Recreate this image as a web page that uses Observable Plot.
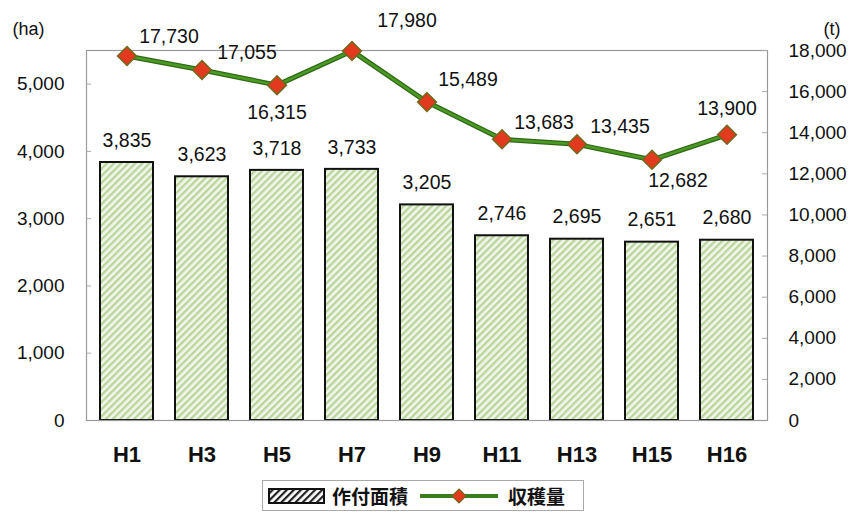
<!DOCTYPE html>
<html><head><meta charset="utf-8">
<script src="https://cdn.jsdelivr.net/npm/d3@7"></script>
<script src="https://cdn.jsdelivr.net/npm/@observablehq/plot@0.6"></script>
<style>
body{margin:0;background:#fff;font-family:"Liberation Sans",Arial,sans-serif;}
#wrap{position:relative;width:853px;height:515px;}
#legend{position:absolute;left:262px;top:480px;width:322px;height:31px;border:1px solid #aaa;box-sizing:border-box;display:flex;align-items:center;font-family:"Noto Sans CJK JP",sans-serif;font-weight:bold;font-size:19px;color:#111;}
#legend span{line-height:1;}
</style></head>
<body><div id="wrap"><div id="chart"></div>
<div id="legend">
<svg width="60" height="20" style="margin-left:5px"><defs><pattern id="lh" width="5" height="5" patternUnits="userSpaceOnUse" patternTransform="rotate(45)"><rect width="5" height="5" fill="#fff"/><rect width="2.2" height="5" fill="#222"/></pattern></defs><rect x="1" y="3" width="55" height="14" fill="url(#lh)" stroke="#111" stroke-width="2"/></svg>
<span style="margin-left:4px">作付面積</span>
<svg width="82" height="20" style="margin-left:10px"><line x1="2" y1="10" x2="80" y2="10" stroke="#3a7d1c" stroke-width="4"/><path d="M41,3 L48,10 L41,17 L34,10 Z" fill="#e23a1e" stroke="#6f6a1c" stroke-width="1.2"/></svg>
<span style="margin-left:8px">収穫量</span>
</div></div>
<script>
const years = ["H1","H3","H5","H7","H9","H11","H13","H15","H16"];
const area = [3835,3623,3718,3733,3205,2746,2695,2651,2680];
const harvest = [17730,17055,16315,17980,15489,13683,13435,12682,13900];
const leftTicks = [0,1000,2000,3000,4000,5000];
const rightTicks = [0,2000,4000,6000,8000,10000,12000,14000,16000,18000];

const leftMax = 5500, rightMax = 18000, k = leftMax / rightMax;
const rows = years.map((y, i) => ({year: y, area: area[i], harvest: harvest[i], hs: harvest[i] * k}));
const fmt = d3.format(",");

// label placement for the line values (dx, dy)
const place = {H1:[42,-19],H3:[45,-17],H5:[0,28],H7:[55,-30],H9:[41,-22],H11:[42,-16],H13:[43,-18],H15:[26,21],H16:[0,-26]};
const labelMarks = Object.entries(place).map(([yr,[dx,dy]]) =>
  Plot.text(rows.filter(r => r.year === yr), {x:"year", y:"hs", text: d => fmt(d.harvest), dx, dy, fontSize:19.5, fill:"#111"}));

const chart = Plot.plot({
  width: 853, height: 470,
  marginLeft: 86, marginRight: 86, marginTop: 50, marginBottom: 50,
  style: {fontFamily: '"Liberation Sans", Arial, sans-serif', color:"#111", background:"#fff"},
  x: {type:"band", domain: years, paddingInner: 0.3, paddingOuter: 0.15, axis: null},
  y: {domain: [0, leftMax], axis: null},
  marks: [
    Plot.barY(rows, {x:"year", y:"area", fill:"url(#hatch)", stroke:"#111", strokeWidth:2}),
    Plot.frame({stroke:"#999", strokeWidth:1.2}),
    Plot.ruleY(leftTicks.slice(1), {stroke:"#aaa", insetRight: 681-5}),
    Plot.ruleY(rightTicks.slice(1).map(d => d*k), {stroke:"#aaa", insetLeft: 681-5}),
    Plot.axisY(leftTicks, {anchor:"left", tickSize:0, tickPadding:22, tickFormat: fmt, fontSize:19, fill:"#111", label:null}),
    Plot.axisY(rightTicks.map(d => d*k), {anchor:"right", tickSize:0, tickPadding:21, tickFormat: d => fmt(Math.round(d/k)), fontSize:19, fill:"#111", label:null}),
    Plot.axisX({tickSize:0, tickPadding:26, fontSize:22, fontWeight:600, fill:"#111", label:null}),
    Plot.text(["(ha)"], {frameAnchor:"top-left", text: d=>d, dx:-74, dy:-28, textAnchor:"start", fontSize:18}),
    Plot.text(["(t)"], {frameAnchor:"top-right", text: d=>d, dx:56, dy:-28, textAnchor:"start", fontSize:18}),
    Plot.text(rows, {x:"year", y:"area", text: d => fmt(d.area), dy:-22, fontSize:19.5, fill:"#111"}),
    Plot.line(rows, {x:"year", y:"hs", stroke:"#2f6a14", strokeWidth:5}),
    Plot.line(rows, {x:"year", y:"hs", stroke:"#4c9a26", strokeWidth:2.5}),
    Plot.dot(rows, {x:"year", y:"hs", symbol:"diamond2", r:8.5, fill:"#e23a1e", stroke:"#6f6a1c", strokeWidth:1.5}),
    ...labelMarks
  ]
});
const ns = "http://www.w3.org/2000/svg";
const defs = document.createElementNS(ns, "defs");
defs.innerHTML = '<pattern id="hatch" width="5" height="5" patternUnits="userSpaceOnUse" patternTransform="rotate(45)"><rect width="5" height="5" fill="#f1f6ea"/><rect width="2.3" height="5" fill="#b9d59b"/></pattern>';
chart.insertBefore(defs, chart.firstChild);
document.getElementById("chart").appendChild(chart);
</script>
</body></html>
